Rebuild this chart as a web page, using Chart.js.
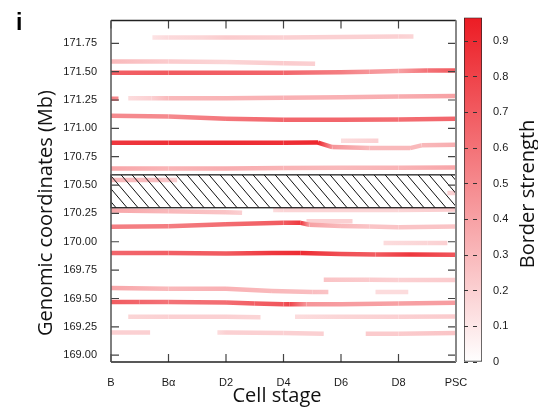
<!DOCTYPE html>
<html>
<head>
<meta charset="utf-8">
<script src="https://cdn.jsdelivr.net/npm/chart.js@4"></script>
<style>
  body { margin: 0; background: #fff; }
  #wrap { position: relative; width: 538px; height: 419px; }
  #wrap canvas { position: absolute; left: 0; top: 0; }
  #panel { position: absolute; left: 16px; top: 11px; font: bold 23px "Liberation Sans", Arial, sans-serif; line-height: 1; }
</style>
</head>
<body>
<div id="wrap">
  <canvas id="main" width="538" height="419"></canvas>
  <canvas id="cbar" width="538" height="419"></canvas>
  <div id="panel">i</div>
</div>
<script>
const stages = ['B', 'Bα', 'D2', 'D4', 'D6', 'D8', 'PSC'];
const yTicks = [169.00, 169.25, 169.50, 169.75, 170.00, 170.25, 170.50, 170.75, 171.00, 171.25, 171.50, 171.75];
const cbTicks = [0, 0.1, 0.2, 0.3, 0.4, 0.5, 0.6, 0.7, 0.8, 0.9];
const maskedRegion = [170.30, 170.59];

// each border: [stage, position (Mb), border strength]
const b171_80 = [[0.72, 171.80, 0.12], [1, 171.80, 0.16], [1.6, 171.80, 0.18], [2, 171.80, 0.22], [3, 171.80, 0.2], [4, 171.805, 0.2], [5, 171.81, 0.2], [5.26, 171.81, 0.18]];
const b171_59 = [[0, 171.59, 0.3], [1, 171.59, 0.22], [2, 171.585, 0.18], [3, 171.575, 0.22], [3.55, 171.57, 0.2]];
const b171_49 = [[0, 171.49, 0.68], [1, 171.49, 0.7], [2, 171.49, 0.68], [3, 171.49, 0.65], [4, 171.495, 0.55], [4.5, 171.50, 0.45], [5, 171.505, 0.4], [5.5, 171.51, 0.6], [6, 171.51, 0.7]];
const b171_26a = [[0, 171.26, 0.55], [0.13, 171.26, 0.5]];
const b171_26b = [[0.3, 171.265, 0.15], [0.7, 171.265, 0.2], [1, 171.265, 0.3], [2, 171.265, 0.32], [3, 171.27, 0.33], [4, 171.275, 0.33], [5, 171.28, 0.35], [6, 171.285, 0.4]];
const b171_11 = [[0, 171.11, 0.5], [1, 171.105, 0.5], [2, 171.085, 0.58], [3, 171.075, 0.65], [4, 171.075, 0.65], [5, 171.078, 0.62], [6, 171.085, 0.65]];
const b170_87 = [[0, 170.873, 0.85], [1, 170.873, 0.88], [2, 170.873, 0.9], [3, 170.873, 0.88], [3.6, 170.875, 0.92], [3.85, 170.835, 0.45], [4.5, 170.826, 0.3], [5.2, 170.826, 0.3], [5.4, 170.85, 0.3], [6, 170.855, 0.35]];
const b170_89 = [[4, 170.89, 0.15], [4.65, 170.89, 0.2]];
const b170_64 = [[0, 170.647, 0.38], [1, 170.645, 0.32], [2, 170.647, 0.35], [3, 170.65, 0.32], [4, 170.652, 0.3], [5, 170.652, 0.32], [6, 170.655, 0.38]];
const b170_55 = [[0, 170.545, 0.3], [0.8, 170.545, 0.28], [1.15, 170.545, 0.2]];
const b170_43 = [[5.85, 170.43, 0.2], [6, 170.43, 0.2]];
const b170_28a = [[0, 170.275, 0.38], [1, 170.27, 0.3], [2, 170.26, 0.25], [2.28, 170.255, 0.2]];
const b170_28b = [[2.82, 170.28, 0.15], [3, 170.28, 0.18], [4, 170.28, 0.18], [5, 170.28, 0.18], [6, 170.285, 0.22]];
const b170_13 = [[0, 170.133, 0.55], [1, 170.137, 0.55], [2, 170.155, 0.62], [3, 170.167, 0.7], [3.3, 170.167, 0.85], [3.45, 170.15, 0.4], [4, 170.14, 0.3], [4.5, 170.135, 0.25], [5, 170.128, 0.25], [6, 170.135, 0.25]];
const b170_18 = [[3.4, 170.18, 0.2], [4.2, 170.18, 0.2]];
const b169_99 = [[4.74, 169.99, 0.15], [5.5, 169.99, 0.18], [5.85, 169.99, 0.2]];
const b169_89 = [[0, 169.90, 0.65], [1, 169.90, 0.68], [2, 169.897, 0.7], [2.8, 169.90, 0.85], [3.3, 169.90, 0.9], [4, 169.893, 0.75], [4.6, 169.888, 0.7], [5.2, 169.888, 0.85], [6, 169.886, 0.72]];
const b169_58a = [[0, 169.593, 0.38], [1, 169.585, 0.3], [2, 169.585, 0.33], [2.8, 169.565, 0.3], [3.5, 169.557, 0.28], [3.78, 169.557, 0.25]];
const b169_58b = [[4.6, 169.557, 0.15], [5.17, 169.557, 0.15]];
const b169_66 = [[3.7, 169.666, 0.25], [4.5, 169.666, 0.22], [5, 169.664, 0.2], [6, 169.664, 0.22]];
const b169_47 = [[0, 169.47, 0.7], [0.5, 169.47, 0.65], [1, 169.468, 0.6], [2, 169.465, 0.62], [2.5, 169.455, 0.68], [3, 169.45, 0.72], [3.1, 169.45, 0.8], [3.4, 169.45, 0.45], [4, 169.45, 0.42], [5, 169.455, 0.4], [6, 169.462, 0.42]];
const b169_34a = [[0.3, 169.34, 0.18], [1, 169.34, 0.2], [2, 169.338, 0.2], [2.6, 169.335, 0.18]];
const b169_34b = [[3.2, 169.34, 0.15], [4, 169.34, 0.18], [5, 169.34, 0.2], [6, 169.342, 0.22]];
const b169_20a = [[0, 169.20, 0.2], [0.68, 169.20, 0.2]];
const b169_20b = [[1.85, 169.20, 0.15], [2, 169.20, 0.2], [3, 169.195, 0.2], [3.7, 169.19, 0.2]];
const b169_20c = [[4.43, 169.19, 0.22], [5, 169.19, 0.22], [6, 169.195, 0.25]];

const borders = [b171_80, b171_59, b171_49, b171_26a, b171_26b, b171_11, b170_87, b170_89, b170_64, b170_55, b170_43,
  b170_28a, b170_28b, b170_13, b170_18, b169_99, b169_89, b169_58a, b169_58b, b169_66, b169_47, b169_34a, b169_34b,
  b169_20a, b169_20b, b169_20c];

const cbMax = 0.966;
const RED = [236, 28, 36];
function colorAt(s) {
  const t = Math.max(0, Math.min(1, s / cbMax));
  const c = RED.map(v => Math.round(255 - (255 - v) * t));
  return 'rgb(' + c.join(',') + ')';
}

const tickFont = { family: '"Liberation Sans", Arial, sans-serif', size: 11 };
const titleFamily = '"Open Sans", sans-serif';

function drawText(ctx, text, x, y, size, rot) {
  ctx.save();
  ctx.translate(x, y);
  ctx.rotate(rot);
  ctx.font = size + 'px ' + titleFamily;
  ctx.fillStyle = '#111';
  ctx.textAlign = 'center';
  ctx.textBaseline = 'middle';
  ctx.fillText(text, 0, 0);
  ctx.restore();
}

const mainCtx = document.getElementById('main').getContext('2d');

const frame = {
  id: 'frame',
  afterDatasetsDraw(chart) {
    const { ctx, chartArea: a, scales: { x, y } } = chart;
    const yt = y.getPixelForValue(maskedRegion[1]);
    const yb = y.getPixelForValue(maskedRegion[0]);
    const h = yb - yt;
    ctx.save();
    ctx.beginPath();
    ctx.rect(a.left, yt, a.right - a.left, h);
    ctx.clip();
    ctx.strokeStyle = '#111';
    ctx.lineWidth = 1;
    ctx.beginPath();
    for (let x0 = a.left - h - 12; x0 < a.right + 12; x0 += 11) {
      ctx.moveTo(x0, yt);
      ctx.lineTo(x0 + h * 0.85, yb);
    }
    ctx.stroke();
    ctx.restore();
    ctx.save();
    ctx.strokeStyle = '#111';
    ctx.lineWidth = 1.2;
    ctx.strokeRect(a.left, yt, a.right - a.left, h);

    // inward tick marks
    ctx.strokeStyle = '#444';
    ctx.lineWidth = 1.2;
    ctx.beginPath();
    yTicks.forEach(v => {
      const py = y.getPixelForValue(v);
      ctx.moveTo(a.left, py); ctx.lineTo(a.left + 8, py);
      ctx.moveTo(a.right - 8, py); ctx.lineTo(a.right, py);
    });
    stages.forEach((s, i) => {
      const px = x.getPixelForValue(i);
      ctx.moveTo(px, a.bottom); ctx.lineTo(px, a.bottom - 8);
      ctx.moveTo(px, a.top); ctx.lineTo(px, a.top + 8);
    });
    ctx.stroke();

    // axes box
    ctx.lineWidth = 1.5;
    ctx.strokeStyle = '#222';
    ctx.beginPath();
    ctx.moveTo(a.left, a.top); ctx.lineTo(a.right, a.top);
    ctx.moveTo(a.left, a.bottom); ctx.lineTo(a.right, a.bottom);
    ctx.stroke();
    ctx.strokeStyle = '#555';
    ctx.beginPath();
    ctx.moveTo(a.left, a.top); ctx.lineTo(a.left, a.bottom);
    ctx.stroke();
    ctx.strokeStyle = '#888';
    ctx.lineWidth = 2;
    ctx.beginPath();
    ctx.moveTo(a.right, a.top); ctx.lineTo(a.right, a.bottom);
    ctx.stroke();
    ctx.restore();
  },
  afterDraw(chart) {
    drawText(chart.ctx, 'Cell stage', 277, 396, 20, 0);
    drawText(chart.ctx, 'Genomic coordinates (Mb)', 46, 213, 20, -Math.PI / 2);
  }
};

new Chart(document.getElementById('main'), {
  type: 'line',
  data: {
    datasets: borders.map(pts => ({
      data: pts.map(p => ({ x: p[0], y: p[1] })),
      borderColor: 'rgba(0,0,0,0)',
      borderWidth: 4.5,
      borderCapStyle: 'butt',
      pointRadius: 0,
      tension: 0,
      segment: {
        borderColor: c => {
          const g = mainCtx.createLinearGradient(c.p0.x, 0, c.p1.x, 0);
          g.addColorStop(0, colorAt(pts[c.p0DataIndex][2]));
          g.addColorStop(1, colorAt(pts[c.p1DataIndex][2]));
          return g;
        },
        borderDashOffset: c => c.p0DataIndex
      }
    }))
  },
  options: {
    responsive: false,
    animation: false,
    events: [],
    layout: { padding: { top: 17, right: 82, left: 0, bottom: 0 } },
    plugins: { legend: { display: false }, tooltip: { enabled: false } },
    scales: {
      x: {
        type: 'linear',
        min: 0,
        max: 6,
        afterBuildTicks: s => { s.ticks = stages.map((l, i) => ({ value: i })); },
        afterFit: s => { s.height = 57; },
        ticks: { callback: v => stages[v], font: tickFont, color: '#1a1a1a', padding: 14, maxRotation: 0 },
        grid: { display: false, drawTicks: false },
        border: { display: false }
      },
      y: {
        type: 'linear',
        min: 168.94,
        max: 171.95,
        afterBuildTicks: s => { s.ticks = yTicks.map(v => ({ value: v })); },
        afterFit: s => { s.width = 111; },
        ticks: { callback: v => v.toFixed(2), font: tickFont, color: '#1a1a1a', padding: 14 },
        grid: { display: false, drawTicks: false },
        border: { display: false }
      }
    }
  },
  plugins: [frame]
});

const cbTitle = {
  id: 'cbTitle',
  afterDraw(chart) {
    drawText(chart.ctx, 'Border strength', 528, 194, 20, -Math.PI / 2);
  }
};

new Chart(document.getElementById('cbar'), {
  type: 'bar',
  data: {
    labels: [''],
    datasets: [{
      data: [cbMax],
      barPercentage: 1,
      categoryPercentage: 1,
      borderWidth: 1,
      borderColor: '#222',
      borderSkipped: false,
      backgroundColor: c => {
        const a = c.chart.chartArea;
        if (!a) return colorAt(0.5);
        const g = c.chart.ctx.createLinearGradient(0, a.bottom, 0, a.top);
        g.addColorStop(0, colorAt(0));
        g.addColorStop(1, colorAt(cbMax));
        return g;
      }
    }]
  },
  options: {
    responsive: false,
    animation: false,
    events: [],
    layout: { padding: { top: 17, right: 0, left: 464, bottom: 57 } },
    plugins: { legend: { display: false }, tooltip: { enabled: false } },
    scales: {
      x: { display: false },
      y: {
        position: 'right',
        min: 0,
        max: cbMax,
        afterBuildTicks: s => { s.ticks = cbTicks.map(v => ({ value: v })); },
        afterFit: s => { s.width = 56; },
        ticks: { callback: v => (v === 0 ? '0' : v.toFixed(1)), font: tickFont, color: '#1a1a1a', padding: 11 },
        grid: { drawTicks: false, color: '#333', lineWidth: 1, z: 1 },
        border: { display: false, dash: [4, 5] }
      }
    }
  },
  plugins: [cbTitle]
});
</script>
</body>
</html>
